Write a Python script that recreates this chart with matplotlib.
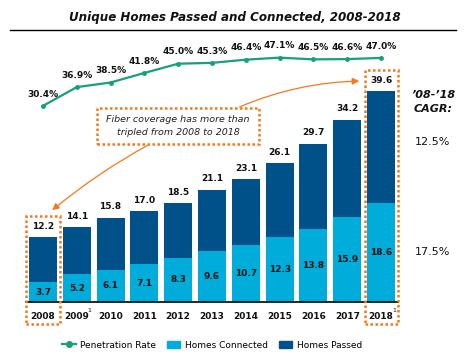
import matplotlib.pyplot as plt
from matplotlib.patches import Rectangle, FancyArrowPatch
from matplotlib.lines import Line2D
from matplotlib.patches import Patch

# ========== 数据 ==========
years = ["2008", "2009", "2010", "2011", "2012", "2013", "2014", "2015", "2016", "2017", "2018"]
homes_passed = [12.2, 14.1, 15.8, 17.0, 18.5, 21.1, 23.1, 26.1, 29.7, 34.2, 39.6]
homes_connected = [3.7, 5.2, 6.1, 7.1, 8.3, 9.6, 10.7, 12.3, 13.8, 15.9, 18.6]
penetration = [30.4, 36.9, 38.5, 41.8, 45.0, 45.3, 46.4, 47.1, 46.5, 46.6, 47.0]
footnote_years = ["2009", "2018"]
cagr_passed = "12.5%"
cagr_connected = "17.5%"

C_LINE = "#16a07c"
C_CONN = "#00acd9"
C_PASS = "#00518a"
C_ORANGE = "#f5781f"

W, H = 470, 360
fig = plt.figure(figsize=(W / 100, H / 100), dpi=100)


def fx(px):
    return px / W


def fy(py):
    return 1 - py / H


# 主坐标轴 (柱状图)
ax = fig.add_axes([fx(26), fy(302), fx(372), 262 / H])
x = list(range(len(years)))
ax.bar(x, homes_passed, width=0.83, color=C_PASS, zorder=2)
ax.bar(x, homes_connected, width=0.83, color=C_CONN, zorder=3)
ax.set_xlim(-0.5, 10.5)
ax.set_ylim(0, 49.2)
ax.axis("off")
ax.plot([-0.5, 10.5], [0, 0], color="black", lw=1.2, clip_on=False, zorder=4)

for i in x:
    ax.text(i, homes_passed[i] + 1.2, f"{homes_passed[i]:.1f}", ha="center", va="bottom",
            fontsize=6.5, fontweight="bold", color="#111111")
    ax.text(i, homes_connected[i] / 2, f"{homes_connected[i]:.1f}", ha="center", va="center",
            fontsize=6.5, fontweight="bold", color="#111111", zorder=5)
    ax.text(i, -1.8, years[i], ha="center", va="top", fontsize=6.5, fontweight="bold",
            color="#111111")
    if years[i] in footnote_years:
        ax.text(i + 0.38, -1.1, "1", ha="center", va="top", fontsize=4.5, color="#111111")

# 折线图 (渗透率)
ax2 = ax.twinx()
ax2.set_ylim(-37.4, 53.2)
ax2.axis("off")
ax2.plot(x, penetration, color=C_LINE, lw=1.6, marker="o", markersize=2.5, zorder=5)
for i in x:
    ax2.text(i, penetration[i] + 2.5, f"{penetration[i]:.1f}%", ha="center", va="bottom",
             fontsize=6.5, fontweight="bold", color="#111111")

# 标题
fig.text(0.5, fy(18), "Unique Homes Passed and Connected, 2008-2018", ha="center", va="center",
         fontsize=8.6, fontweight="bold", style="italic", color="#111111")
fig.add_artist(Line2D([fx(10), fx(456)], [fy(30), fy(30)], color="black", lw=1))

# 橙色虚线框
for (x0, y0, x1, y1) in [(26, 216, 60, 324), (365, 70, 398, 324), (97, 108, 259, 144)]:
    fig.add_artist(Rectangle((fx(x0), fy(y1)), fx(x1 - x0), (y1 - y0) / H, fill=False,
                             edgecolor=C_ORANGE, lw=1.8, linestyle=(0, (1, 1))))
fig.text(fx(178), fy(126), "Fiber coverage has more than\ntripled from 2008 to 2018",
         ha="center", va="center", fontsize=6.8, style="italic", color="#222222",
         linespacing=1.5)

# 箭头
fig.add_artist(FancyArrowPatch((fx(150), fy(144)), (fx(50), fy(212)),
                               connectionstyle="arc3,rad=0.05", arrowstyle="-|>,head_length=4,head_width=2",
                               color=C_ORANGE, lw=0.9))
fig.add_artist(FancyArrowPatch((fx(237), fy(108)), (fx(362), fy(81)),
                               connectionstyle="arc3,rad=-0.1", arrowstyle="-|>,head_length=4,head_width=2",
                               color=C_ORANGE, lw=0.9))

# CAGR
fig.text(fx(433), fy(102), "\u201908-\u201918\nCAGR:", ha="center", va="center", fontsize=8,
         fontweight="bold", style="italic", color="#111111", linespacing=1.4)
fig.text(fx(433), fy(142), cagr_passed, ha="center", va="center", fontsize=8, color="#111111")
fig.text(fx(433), fy(252), cagr_connected, ha="center", va="center", fontsize=8, color="#111111")

# 图例
handles = [
    Line2D([0], [0], color=C_LINE, lw=1.6, marker="o", markersize=4),
    Patch(color=C_CONN),
    Patch(color=C_PASS),
]
fig.legend(handles, ["Penetration Rate", "Homes Connected", "Homes Passed"], loc="center",
           bbox_to_anchor=(fx(212), fy(345)), ncol=3, frameon=False, fontsize=6.5,
           handlelength=1.5, handleheight=0.9, columnspacing=1.2, handletextpad=0.5)

fig.savefig("out.png", dpi=100)
